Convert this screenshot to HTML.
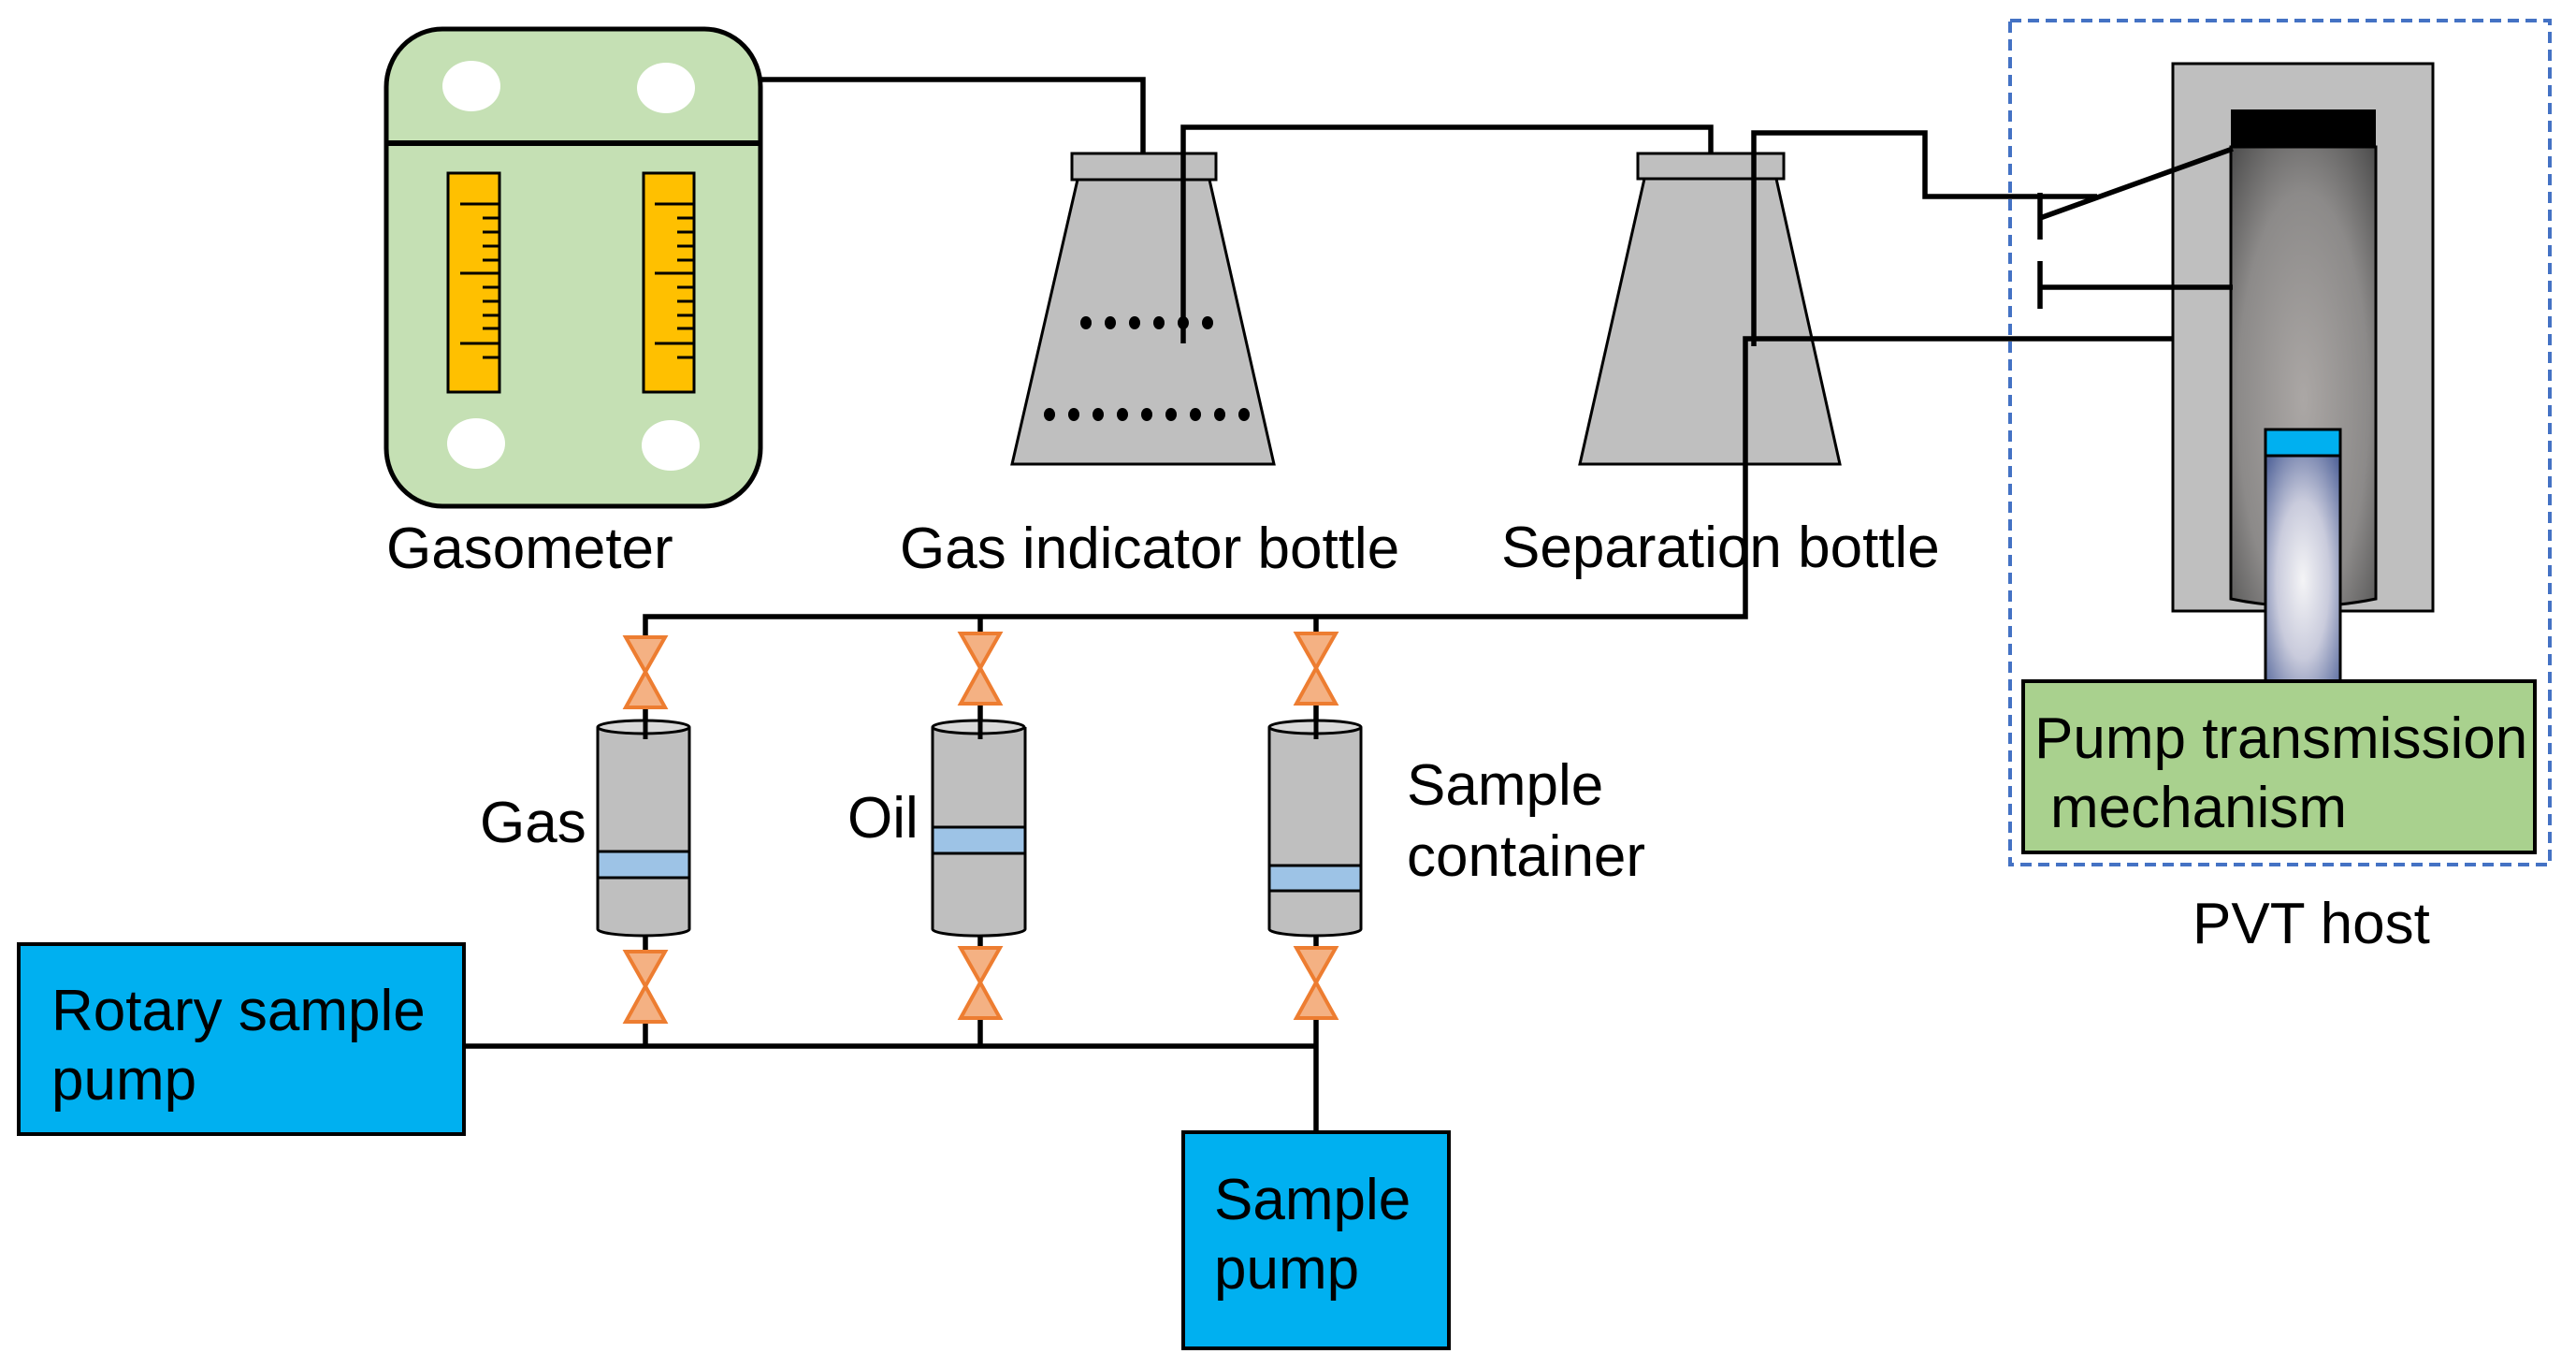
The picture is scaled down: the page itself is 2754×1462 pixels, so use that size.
<!DOCTYPE html>
<html><head><meta charset="utf-8"><style>
html,body{margin:0;padding:0;background:#fff;}
svg{display:block;}
text{font-family:"Liberation Sans",Arial,sans-serif;font-size:62px;fill:#000;}
</style></head><body>
<svg width="2754" height="1462" viewBox="0 0 2754 1462" xmlns="http://www.w3.org/2000/svg">
<defs>
<radialGradient id="cyl" cx="0.5" cy="0.55" r="0.75">
<stop offset="0" stop-color="#aba7a5"/><stop offset="0.6" stop-color="#8c8a89"/><stop offset="1" stop-color="#4a4a4a"/>
</radialGradient>
<radialGradient id="pis" cx="0.5" cy="0.55" r="0.7">
<stop offset="0" stop-color="#f4f4f6"/><stop offset="0.5" stop-color="#c9cbdc"/><stop offset="1" stop-color="#56689c"/>
</radialGradient>
<g id="valve">
<polygon points="-21,0 21,0 0,37" fill="#f4b183" stroke="#ed7d31" stroke-width="4" stroke-linejoin="miter"/>
<polygon points="-21,75 21,75 0,37" fill="#f4b183" stroke="#ed7d31" stroke-width="4"/>
</g>
</defs>

<!-- Gasometer -->
<rect x="413" y="31" width="400" height="510" rx="60" ry="62" fill="#c5e0b4" stroke="#000" stroke-width="5"/>
<line x1="411" y1="153" x2="813" y2="153" stroke="#000" stroke-width="6"/>
<ellipse cx="504" cy="92" rx="31" ry="27" fill="#fff"/>
<ellipse cx="712" cy="94" rx="31" ry="27" fill="#fff"/>
<ellipse cx="509" cy="474" rx="31" ry="27" fill="#fff"/>
<ellipse cx="717" cy="476" rx="31" ry="27" fill="#fff"/>
<rect x="479" y="185" width="55" height="234" fill="#ffc000" stroke="#000" stroke-width="3"/>
<rect x="688" y="185" width="54" height="234" fill="#ffc000" stroke="#000" stroke-width="3"/>
<g stroke="#000" stroke-width="3">
<path d="M492 218H534M492 292H534M492 367H534M516 233H534M516 248H534M516 263H534M516 278H534M516 307H534M516 322H534M516 337H534M516 351H534M516 382H534"/>
<path d="M700 218H742M700 292H742M700 367H742M724 233H742M724 248H742M724 263H742M724 278H742M724 307H742M724 322H742M724 337H742M724 351H742M724 382H742"/>
</g>

<!-- Gas indicator bottle -->
<polygon points="1152,192 1293,192 1362,496 1082,496" fill="#bfbfbf" stroke="#000" stroke-width="3"/>
<rect x="1146" y="164" width="154" height="28" fill="#bfbfbf" stroke="#000" stroke-width="3"/>
<g fill="#000">
<ellipse cx="1161" cy="345" rx="6" ry="7"/><ellipse cx="1187" cy="345" rx="6" ry="7"/><ellipse cx="1213" cy="345" rx="6" ry="7"/><ellipse cx="1239" cy="345" rx="6" ry="7"/><ellipse cx="1265" cy="345" rx="6" ry="7"/><ellipse cx="1291" cy="345" rx="6" ry="7"/>
<ellipse cx="1122" cy="443" rx="6" ry="7"/><ellipse cx="1148" cy="443" rx="6" ry="7"/><ellipse cx="1174" cy="443" rx="6" ry="7"/><ellipse cx="1200" cy="443" rx="6" ry="7"/><ellipse cx="1226" cy="443" rx="6" ry="7"/><ellipse cx="1252" cy="443" rx="6" ry="7"/><ellipse cx="1278" cy="443" rx="6" ry="7"/><ellipse cx="1304" cy="443" rx="6" ry="7"/><ellipse cx="1330" cy="443" rx="6" ry="7"/>
</g>

<!-- Separation bottle -->
<polygon points="1758,191 1899,191 1967,496 1689,496" fill="#bfbfbf" stroke="#000" stroke-width="3"/>
<rect x="1751" y="164" width="156" height="27" fill="#bfbfbf" stroke="#000" stroke-width="3"/>

<!-- PVT host -->
<rect x="2149" y="22" width="577" height="902" fill="none" stroke="#4472c4" stroke-width="4" stroke-dasharray="12,7"/>
<rect x="2323" y="68" width="278" height="585" fill="#bfbfbf" stroke="#000" stroke-width="3"/>
<path d="M2385 157 H2540 V640 Q2462 656 2385 640 Z" fill="url(#cyl)" stroke="#000" stroke-width="3"/>
<rect x="2385" y="117" width="155" height="40" fill="#000"/>
<rect x="2422" y="487" width="80" height="241" fill="url(#pis)" stroke="#000" stroke-width="3"/>
<rect x="2422" y="459" width="80" height="28" fill="#00b0f0" stroke="#000" stroke-width="3"/>
<rect x="2163" y="728" width="547" height="183" fill="#a9d18e" stroke="#000" stroke-width="4"/>

<!-- pipes -->
<g stroke="#000" stroke-width="5.5" fill="none">
<path d="M813 85 H1222 V164"/>
<path d="M1265 367 V136 H1829 V164"/>
<path d="M1875 370 V142 H2058 V210 H2242"/>
<path d="M2181 206 V256 M2181 233 L2387 159"/>
<path d="M2181 279 V330 M2181 307 H2387"/>
<path d="M2323 362 H1866 V659 H690 V681"/>
<path d="M1048 659 V676 M1407 659 V676"/>
<path d="M690 756 V785 M1048 753 V785 M1407 753 V785"/>
<path d="M690 999 V1016 M1048 999 V1012 M1407 999 V1012"/>
<path d="M690 1092 V1118 M1048 1089 V1118 M1407 1089 V1210 M496 1118 H1407"/>
</g>

<!-- valves -->
<use href="#valve" x="690" y="681"/>
<use href="#valve" x="1048" y="677"/>
<use href="#valve" x="1407" y="677"/>
<use href="#valve" x="690" y="1017"/>
<use href="#valve" x="1048" y="1013"/>
<use href="#valve" x="1407" y="1013"/>

<!-- cylinders -->
<g stroke="#000" stroke-width="3">
<path d="M639 777 V993 A49 7 0 0 0 737 993 V777" fill="#bfbfbf"/>
<ellipse cx="688" cy="777" rx="49" ry="7" fill="#d9d9d9"/>
<rect x="639" y="910" width="98" height="28" fill="#9dc3e6"/>
<path d="M997 777 V993 A49 7 0 0 0 1096 993 V777" fill="#bfbfbf"/>
<ellipse cx="1046" cy="777" rx="49" ry="7" fill="#d9d9d9"/>
<rect x="997" y="884" width="99" height="28" fill="#9dc3e6"/>
<path d="M1357 777 V993 A49 7 0 0 0 1455 993 V777" fill="#bfbfbf"/>
<ellipse cx="1406" cy="777" rx="49" ry="7" fill="#d9d9d9"/>
<rect x="1357" y="925" width="98" height="27" fill="#9dc3e6"/>
</g>
<g stroke="#000" stroke-width="5">
<path d="M690 770 V790 M1048 770 V790 M1407 770 V790"/>
</g>

<!-- pumps -->
<rect x="20" y="1009" width="476" height="203" fill="#00b0f0" stroke="#000" stroke-width="4"/>
<rect x="1265" y="1210" width="284" height="231" fill="#00b0f0" stroke="#000" stroke-width="4"/>

<!-- labels -->
<text x="413" y="607">Gasometer</text>
<text x="962" y="607">Gas indicator bottle</text>
<text x="1605" y="606">Separation bottle</text>
<text x="2175" y="810">Pump transmission</text>
<text x="2192" y="884">mechanism</text>
<text x="2344" y="1008">PVT host</text>
<text x="513" y="900">Gas</text>
<text x="906" y="895">Oil</text>
<text x="1504" y="860">Sample</text>
<text x="1504" y="936">container</text>
<text x="55" y="1101">Rotary sample</text>
<text x="55" y="1175">pump</text>
<text x="1298" y="1303">Sample</text>
<text x="1298" y="1377">pump</text>
</svg>
</body></html>
